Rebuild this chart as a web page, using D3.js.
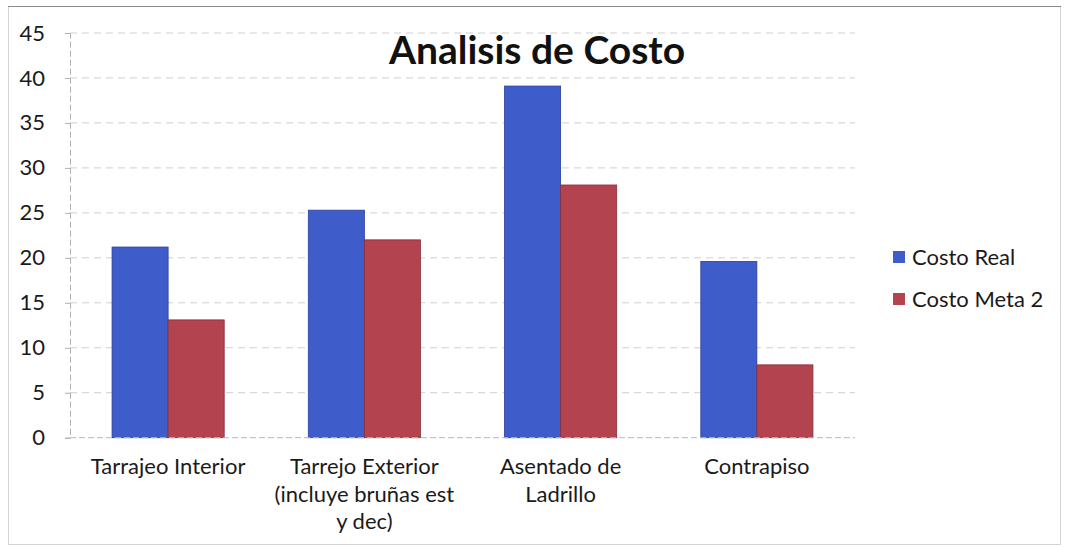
<!DOCTYPE html>
<html>
<head>
<meta charset="utf-8">
<script src="https://cdn.jsdelivr.net/npm/d3@7"></script>
<style>
  html, body { margin: 0; padding: 0; background: #fff; }
  svg { display: block; font-family: "Lato", "Open Sans", sans-serif; }
</style>
</head>
<body>
<svg id="chart" width="1065" height="547"></svg>
<script>
// Cost analysis per work item
const categories = [
  ["Tarrajeo Interior"],
  ["Tarrejo Exterior", "(incluye bruñas est", "y dec)"],
  ["Asentado de", "Ladrillo"],
  ["Contrapiso"]
];
const seriesNames = ["Costo Real", "Costo Meta 2"];
const costoReal = [21.2, 25.3, 39.1, 19.6];
const costoMeta2 = [13.1, 22.0, 28.1, 8.1];
const yTicks = [0, 5, 10, 15, 20, 25, 30, 35, 40, 45];
const colors = ["#3f5ccb", "#b3434f"];
const strokes = ["#2a3f9a", "#8a2f3a"];

const svg = d3.select("#chart");

// frame
svg.append("rect").attr("x", 8.5).attr("y", 6.5).attr("width", 1052).attr("height", 538)
  .attr("fill", "none").attr("stroke", "#d4d4d4").attr("stroke-width", 1);
svg.append("line").attr("x1", 8).attr("x2", 1061).attr("y1", 6.5).attr("y2", 6.5)
  .attr("stroke", "#8a8a8a").attr("stroke-width", 1);

const plot = { left: 70, right: 855, top: 33, bottom: 437.7 };

const x0 = d3.scaleBand()
  .domain(d3.range(categories.length))
  .range([plot.left, plot.right])
  .paddingInner(0.4286).paddingOuter(0.2143);
const x1 = d3.scaleBand().domain(d3.range(seriesNames.length)).range([0, x0.bandwidth()]);
const y = d3.scaleLinear().domain([0, 45]).range([plot.bottom, plot.top]);

// gridlines
svg.append("g").selectAll("line").data(yTicks.filter(d => d > 0)).join("line")
  .attr("x1", plot.left).attr("x2", plot.right)
  .attr("y1", d => y(d)).attr("y2", d => y(d))
  .attr("stroke", "#cfcfcf").attr("stroke-width", 1).attr("stroke-dasharray", "7,5");

// y axis
const yAxis = d3.axisLeft(y).tickValues(yTicks).tickSize(5).tickPadding(20);
const gy = svg.append("g").attr("transform", `translate(${plot.left},0)`).call(yAxis);
gy.select(".domain").attr("stroke", "#b0b0b0").attr("stroke-dasharray", "6,3");
gy.selectAll(".tick line").attr("stroke", "#b0b0b0");
gy.selectAll(".tick text").attr("font-size", 22).attr("fill", "#1a1a1a")
  .attr("font-family", "Lato, 'Open Sans', sans-serif");

// bars
const series = [costoReal, costoMeta2];
const groups = svg.append("g").selectAll("g").data(series).join("g")
  .attr("fill", (d, i) => colors[i]).attr("stroke", (d, i) => strokes[i]);
groups.each(function(vals, si) {
  d3.select(this).selectAll("rect").data(vals).join("rect")
    .attr("x", (d, ci) => x0(ci) + x1(si))
    .attr("width", x1.bandwidth())
    .attr("y", d => y(d))
    .attr("height", d => y(0) - y(d))
    .attr("stroke-width", 0.8);
});

// baseline
svg.append("line").attr("x1", plot.left).attr("x2", plot.right)
  .attr("y1", y(0)).attr("y2", y(0)).attr("stroke", "#b8b8b8").attr("stroke-dasharray", "6,3");

// category labels
const catG = svg.append("g").selectAll("text").data(categories).join("text")
  .attr("x", (d, i) => x0(i) + x0.bandwidth() / 2)
  .attr("y", 474)
  .attr("text-anchor", "middle").attr("font-size", 22).attr("fill", "#1a1a1a");
catG.selectAll("tspan").data(d => d).join("tspan")
  .attr("x", function() { return d3.select(this.parentNode).attr("x"); })
  .attr("dy", (d, i) => i === 0 ? 0 : 27.5)
  .text(d => d);

// title
svg.append("text").attr("x", 537).attr("y", 64).attr("text-anchor", "middle")
  .attr("font-size", 39).attr("font-weight", "bold").attr("fill", "#111")
  .text("Analisis de Costo");

// legend
const legend = svg.append("g").selectAll("g").data(seriesNames).join("g")
  .attr("transform", (d, i) => `translate(893,${251 + i * 42})`);
legend.append("rect").attr("width", 12).attr("height", 12).attr("fill", (d, i) => colors[i]);
legend.append("text").attr("x", 19).attr("y", 14).attr("font-size", 22).attr("fill", "#1a1a1a")
  .text(d => d);
</script>
</body>
</html>
